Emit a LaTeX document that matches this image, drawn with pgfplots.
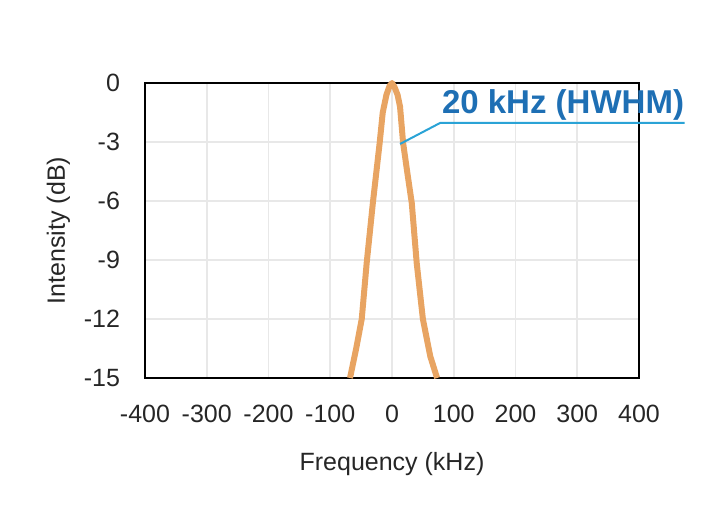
\documentclass[border=0pt]{standalone}
\usepackage{pgfplots}
\pgfplotsset{compat=1.18}
\usepackage{fontspec}
\setmainfont{Liberation Sans}
\definecolor{curve}{HTML}{E8A462}
\definecolor{annot}{HTML}{1E6FB4}
\definecolor{annline}{HTML}{2AA3D6}
\begin{document}
\begin{tikzpicture}[x=0.5pt,y=0.5pt]
\path[use as bounding box] (0,0) rectangle (705,530);
\begin{axis}[
  at={(145*0.5pt,152*0.5pt)}, anchor=south west,
  scale only axis, width=247pt, height=147.5pt,
  xmin=-400, xmax=400, ymin=-15, ymax=0,
  xtick={-400,-300,...,400}, ytick={-15,-12,...,0},
  grid=major, major grid style={gray!18, line width=0.8pt},
  major tick length=0pt,
  axis line style={black, line width=0.9pt},
  tick label style={font=\fontsize{12.5}{14}\selectfont, text=black!85},
  /pgf/number format/assume math mode=true,
  xticklabel style={yshift=-10pt},
  yticklabel style={xshift=-9pt},
  xlabel={Frequency (kHz)}, ylabel={Intensity (dB)},
  label style={font=\fontsize{12.5}{14}\selectfont, text=black!85},
  xlabel style={yshift=-8pt},
  ylabel style={yshift=0pt},
  clip=false,
]
\addplot[curve, line width=3pt, line join=round] coordinates {
(-68,-15) (-58,-13.5) (-49,-12) (-41,-9.15) (-31,-6.1) (-20,-3.05) (-15,-1.5) (-9,-0.6) (-4,-0.15) (0,0)
(4,-0.2) (9,-0.6) (13,-1.2) (18,-3.05) (25,-4.6) (32,-6.1) (40,-9.15) (50,-12) (62,-13.9) (73,-15)};
\draw[annline, line width=1pt] (axis cs:13,-3.1) -- (axis cs:78,-2.03) -- (axis cs:474,-2.03);
\node[annot, font=\fontsize{16.5}{18}\selectfont\bfseries, anchor=base] at (axis cs:277,-1.55) {20 kHz (HWHM)};
\end{axis}
\end{tikzpicture}
\end{document}
